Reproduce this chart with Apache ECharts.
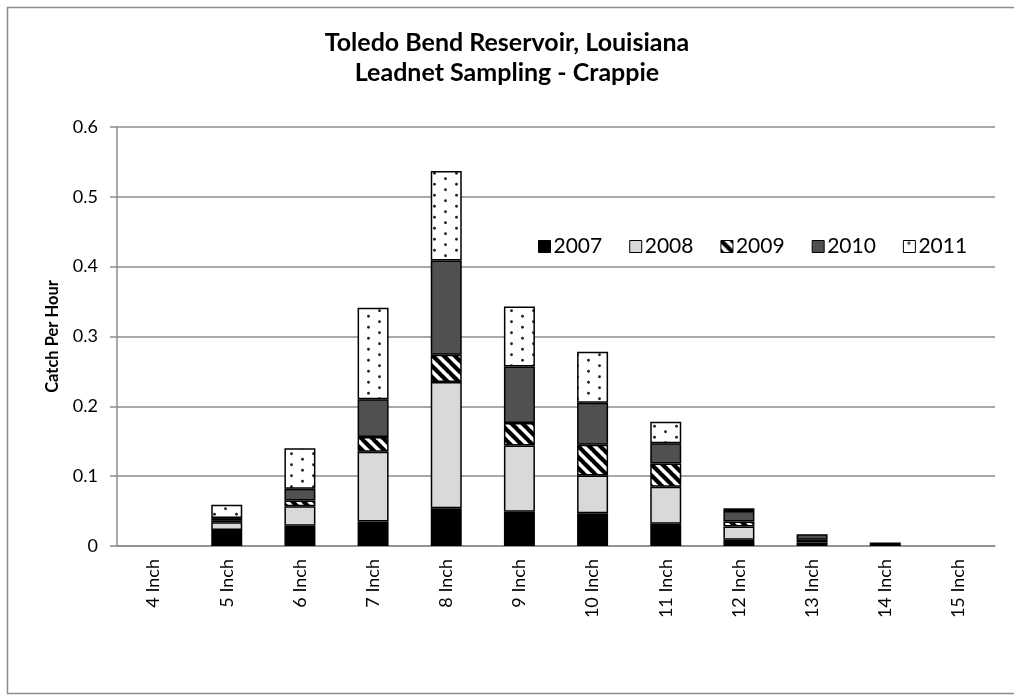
<!DOCTYPE html>
<html>
<head>
<meta charset="utf-8">
<script src="https://cdn.jsdelivr.net/npm/echarts@6/dist/echarts.min.js"></script>
<style>
html,body{margin:0;padding:0;background:#fff;}
#chart{width:1014px;height:696px;}
</style>
</head>
<body>
<div id="chart"></div>
<script>
var categories = ['4 Inch','5 Inch','6 Inch','7 Inch','8 Inch','9 Inch','10 Inch','11 Inch','12 Inch','13 Inch','14 Inch','15 Inch'];
var years = ['2007','2008','2009','2010','2011'];
var s2007 = [0, 0.023, 0.029, 0.035, 0.054, 0.049, 0.047, 0.032, 0.009, 0.005, 0.005, 0];
var s2008 = [0, 0.011, 0.028, 0.100, 0.181, 0.095, 0.054, 0.053, 0.019, 0.004, 0, 0];
var s2009 = [0, 0.003, 0.008, 0.021, 0.039, 0.032, 0.044, 0.033, 0.007, 0, 0, 0];
var s2010 = [0, 0.003, 0.017, 0.054, 0.135, 0.081, 0.060, 0.029, 0.015, 0.008, 0, 0];
var s2011 = [0, 0.019, 0.058, 0.131, 0.128, 0.086, 0.073, 0.031, 0.004, 0, 0, 0];
var yTicks = [0, 0.1, 0.2, 0.3, 0.4, 0.5, 0.6];

function hatchPattern() {
  var c = document.createElement('canvas');
  c.width = 11; c.height = 11;
  var g = c.getContext('2d');
  g.fillStyle = '#fff'; g.fillRect(0,0,11,11);
  g.strokeStyle = '#000'; g.lineWidth = 4.2;
  for (var k = -1; k <= 1; k++) {
    g.beginPath();
    g.moveTo(k*11 - 1, -1);
    g.lineTo(k*11 + 12, 12);
    g.stroke();
  }
  return {image: c, repeat: 'repeat'};
}
function dotPattern() {
  var c = document.createElement('canvas');
  c.width = 22; c.height = 11;
  var g = c.getContext('2d');
  g.fillStyle = '#fff'; g.fillRect(0,0,22,11);
  g.fillStyle = '#222';
  g.beginPath(); g.arc(5.5, 2.75, 1.4, 0, Math.PI*2); g.fill();
  g.beginPath(); g.arc(16.5, 8.25, 1.4, 0, Math.PI*2); g.fill();
  return {image: c, repeat: 'repeat'};
}

var fills = ['#000000', '#d9d9d9', hatchPattern(), '#505050', dotPattern()];
var data = [s2007, s2008, s2009, s2010, s2011];

var FONT = 'Lato';
var chart = echarts.init(document.getElementById('chart'), null, {renderer: 'canvas'});
var series = years.map(function(y, i) {
  return {
    name: y,
    type: 'bar',
    stack: 'total',
    barWidth: 31,
    data: data[i].map(function(v){ return v === 0 ? '-' : v; }),
    itemStyle: {color: fills[i], borderColor: '#000', borderWidth: 1.5},
    emphasis: {disabled: true}
  };
});

chart.setOption({
  animation: false,
  backgroundColor: '#fff',
  graphic: [{
    type: 'rect',
    shape: {x: 7.5, y: 7.5, width: 1020, height: 686},
    style: {fill: 'none', stroke: '#8c8c8c', lineWidth: 1.5},
    silent: true
  }],
  title: {
    text: 'Toledo Bend Reservoir, Louisiana\nLeadnet Sampling - Crappie',
    left: 'center',
    top: 23,
    textStyle: {fontFamily: FONT, fontWeight: 'bold', fontSize: 25, lineHeight: 30, color: '#000'}
  },
  legend: {
    data: years,
    left: 533,
    top: 231,
    icon: 'rect',
    itemWidth: 12,
    itemHeight: 12,
    itemGap: 27,
    textStyle: {fontFamily: FONT, fontSize: 21, color: '#000', padding: [0,0,0,-2]},
    itemStyle: {borderColor: '#000', borderWidth: 1}
  },
  grid: {left: 117, right: 19, top: 127, bottom: 150, containLabel: false},
  xAxis: {
    type: 'category',
    data: categories,
    axisLine: {lineStyle: {color: '#8c8c8c', width: 1.5}},
    axisTick: {show: false},
    axisLabel: {rotate: 90, fontFamily: FONT, fontSize: 18, color: '#000', margin: 13}
  },
  yAxis: {
    type: 'value',
    min: yTicks[0],
    max: yTicks[yTicks.length - 1],
    interval: 0.1,
    name: 'Catch Per Hour',
    nameLocation: 'middle',
    nameGap: 56,
    nameTextStyle: {fontFamily: FONT, fontWeight: 'bold', fontSize: 16.5, color: '#000'},
    axisLine: {show: true, lineStyle: {color: '#8c8c8c', width: 1.5}},
    axisTick: {show: true, inside: false, length: 7, lineStyle: {color: '#8c8c8c', width: 1.5}},
    splitLine: {lineStyle: {color: '#8c8c8c', width: 1.5}},
    axisLabel: {fontFamily: FONT, fontSize: 18, color: '#000', margin: 19,
      formatter: function(v){ return String(Math.round(v*10)/10); }}
  },
  series: series
});
</script>
</body>
</html>
